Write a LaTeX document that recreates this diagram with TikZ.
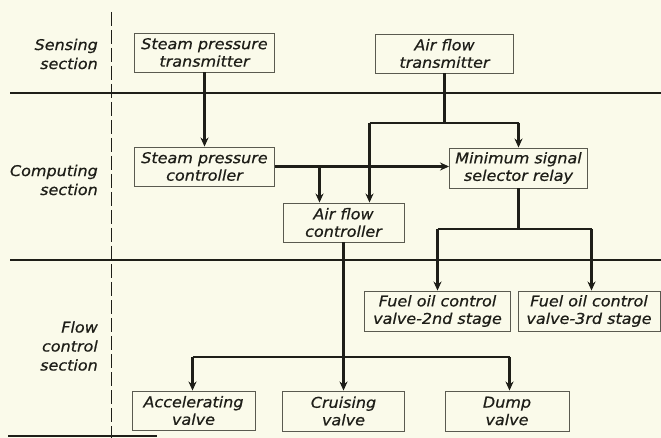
\documentclass[tikz,border=0pt]{standalone}
\usepackage{fontspec}
\setmainfont{DejaVu Sans}[ItalicFont={DejaVu Sans Oblique}, ItalicFeatures={FakeBold=0.6}, FakeStretch=1.08]
\usetikzlibrary{arrows.meta}
\definecolor{paper}{HTML}{FAFAEA}
\definecolor{ink}{HTML}{1E1E18}
\definecolor{boxline}{HTML}{5A5A50}
\tikzset{
  box/.style={draw=boxline, line width=0.9pt, align=center, inner sep=0pt,
    font=\fontsize{14.8}{17.5}\selectfont\itshape, text=ink},
  lbl/.style={align=right, anchor=east, inner sep=0pt,
    font=\fontsize{14.8}{19}\selectfont\itshape, text=ink},
  conn/.style={draw=ink, line width=2.4pt},
  arr/.style={draw=ink, line width=2.4pt, -{Stealth[length=9pt,width=8pt]}},
  secline/.style={draw=ink, line width=1.3pt},
}
\begin{document}
\begin{tikzpicture}[x=1pt,y=-1pt]
\fill[paper] (0,0) rectangle (661,438);
\useasboundingbox (0,0) rectangle (661,438);
% section lines
\draw[secline] (10,93) -- (661,93);
\draw[secline] (10,260) -- (661,260);
\draw[secline] (8,436) -- (157,436);
\draw[ink, line width=1.4pt, dash pattern=on 14pt off 4pt] (111.5,12) -- (111.5,438);
% section labels
\node[lbl] (ls) at (98,54) {Sensing\\section};
\node[lbl] (lc) at (98,180) {Computing\\section};
\node[lbl] (lf) at (98,346) {Flow\\control\\section};
% boxes
\node[box, minimum width=140pt, minimum height=39pt] (spt) at (204.5,52.5) {Steam pressure\\transmitter};
\node[box, minimum width=138pt, minimum height=39pt] (aft) at (444.5,53.5) {Air flow\\transmitter};
\node[box, minimum width=140pt, minimum height=39pt] (spc) at (204.5,166.5) {Steam pressure\\controller};
\node[box, minimum width=138pt, minimum height=40pt] (mss) at (518.5,168) {Minimum signal\\selector relay};
\node[box, minimum width=121pt, minimum height=39pt] (afc) at (343.5,222.5) {Air flow\\controller};
\node[box, minimum width=146pt, minimum height=40pt] (fo2) at (437.5,311) {Fuel oil control\\valve-2nd stage};
\node[box, minimum width=142pt, minimum height=40pt] (fo3) at (589,311) {Fuel oil control\\valve-3rd stage};
\node[box, minimum width=123pt, minimum height=39pt] (acc) at (193.5,410.5) {Accelerating\\valve};
\node[box, minimum width=122pt, minimum height=40pt] (cru) at (343.5,411) {Cruising\\valve};
\node[box, minimum width=124pt, minimum height=40pt] (dmp) at (507,411) {Dump\\valve};
% junction coordinates
\coordinate (ja) at (444.5,123);
\coordinate (jal) at (369.5,123);
\coordinate (jar) at (518.5,123);
\coordinate (jb) at (319.5,167);
\coordinate (jm) at (518.5,229);
\coordinate (jml) at (437.5,229);
\coordinate (jmr) at (591.5,229);
\coordinate (jf) at (343.5,357);
\coordinate (jfl) at (192.5,357);
\coordinate (jfr) at (509.5,357);
% connectors
\draw[arr] (spt.south) -- (spc.north);
\draw[conn] (aft.south) -- (ja);
\draw[conn] (jal) -- (jar);
\draw[arr] (jal) -- (jal |- afc.north);
\draw[arr] (jar) -- (mss.north);
\draw[arr] (spc.east) -- (spc.east -| mss.west);
\draw[arr] (spc.east -| jb) -- (jb |- afc.north);
\draw[conn] (mss.south) -- (jm);
\draw[conn] (jml) -- (jmr);
\draw[arr] (jml) -- (fo2.north);
\draw[arr] (jmr) -- (jmr |- fo3.north);
\draw[conn] (afc.south) -- (jf);
\draw[conn] (jfl) -- (jfr);
\draw[arr] (jfl) -- (jfl |- acc.north);
\draw[arr] (jf) -- (cru.north);
\draw[arr] (jfr) -- (jfr |- dmp.north);
\end{tikzpicture}
\end{document}
